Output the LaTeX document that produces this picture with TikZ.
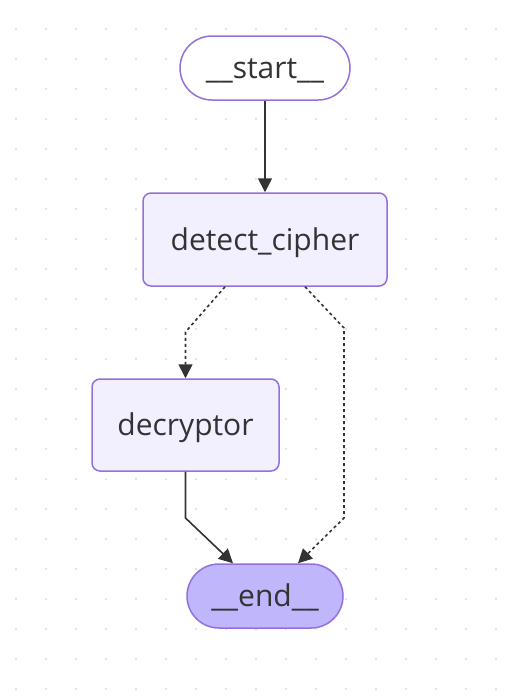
\documentclass[tikz,border=0pt]{standalone}
\usepackage{fontspec}
\setmainfont{Open Sans}
\usetikzlibrary{arrows.meta,calc}
\definecolor{nodefill}{HTML}{F2F0FF}
\definecolor{nodeborder}{HTML}{9370DB}
\definecolor{endfill}{HTML}{BFB6FC}
\definecolor{linecol}{HTML}{333333}
\definecolor{dotcol}{HTML}{E3E3E3}
\tikzset{
  base/.style={draw=nodeborder, line width=1.5pt, inner sep=0pt, text=linecol,
    font=\fontsize{30}{34}\selectfont, text height=21pt, text depth=0pt},
  pill/.style={base, rounded corners=32pt, minimum height=64pt},
  box/.style={base, fill=nodefill, rounded corners=8pt},
  edge/.style={draw=linecol, line width=1.6pt, -{Triangle[length=14pt,width=14pt]}},
  dedge/.style={edge, dash pattern=on 3pt off 3pt},
}
\begin{document}
\begin{tikzpicture}[x=1pt,y=-1pt]
\useasboundingbox (0,0) rectangle (518,697);
\fill[white] (0,0) rectangle (518,697);
\foreach \i in {0,...,16} {
  \foreach \j in {0,...,22} {
    \fill[dotcol] (16+30*\i, 29+30*\j) circle (1.4pt);
  }
}
\node[pill, fill=white, minimum width=170pt] (start) at (265,68) {\_\_start\_\_};
\node[box, minimum width=244pt, minimum height=93pt] (detect) at (265,239.5) {detect\_cipher};
\node[box, minimum width=187pt, minimum height=92pt] (decr) at (185.5,425) {decryptor};
\node[pill, fill=endfill, minimum width=156pt] (end) at (265,596) {\_\_end\_\_};
\coordinate (b1) at (185.5,332);
\coordinate (b2) at (344,328);
\coordinate (b3) at (344,518);
\coordinate (b4) at (185.5,518);
\draw[edge] (start) -- (detect);
\draw[dedge] ($(detect.south)+(-40,0)$) -- (b1) -- (decr.north);
\draw[dedge] ($(detect.south)+(40,0)$) -- (b2) -- (b3) -- ($(end.north)+(33,0)$);
\draw[edge] (decr.south) -- (b4) -- ($(end.north)+(-32,0)$);
\end{tikzpicture}
\end{document}
